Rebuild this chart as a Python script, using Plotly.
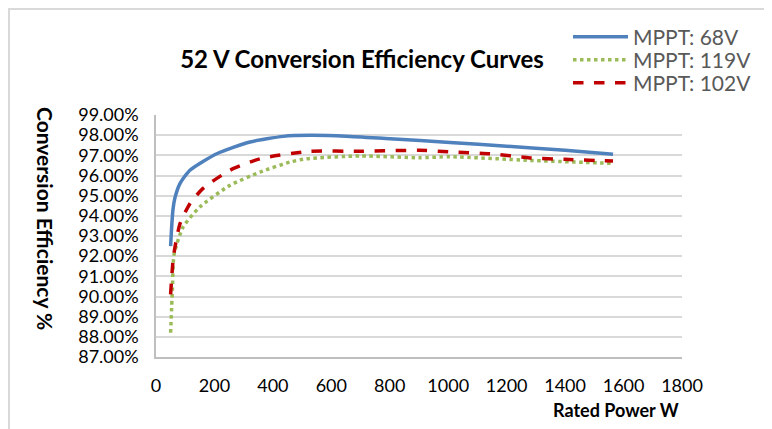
import plotly.graph_objects as go

# Data
x_68v = [50, 53, 58, 65, 82, 116, 208, 322, 436, 527, 650, 800, 1006, 1200, 1400, 1564]
y_68v = [92.5, 93.3, 94.3, 94.9, 95.6, 96.26, 97.08, 97.66, 97.94, 97.99, 97.95, 97.82, 97.64, 97.45, 97.25, 97.05]

x_119v = [50, 56, 62, 93, 150, 253, 356, 459, 515, 700, 900, 1006, 1280, 1564]
y_119v = [88.2, 90.3, 92.1, 93.45, 94.44, 95.51, 96.17, 96.67, 96.83, 96.97, 96.88, 96.93, 96.75, 96.6]

x_102v = [50, 60, 82, 116, 161, 253, 356, 527, 700, 900, 1006, 1143, 1280, 1400, 1564]
y_102v = [90.1, 92.0, 93.6, 94.6, 95.36, 96.26, 96.83, 97.2, 97.2, 97.25, 97.17, 97.08, 96.87, 96.8, 96.72]

y_ticks = [87, 88, 89, 90, 91, 92, 93, 94, 95, 96, 97, 98, 99]
y_tick_labels = [f"{v:.2f}%" for v in y_ticks]
x_ticks = [0, 200, 400, 600, 800, 1000, 1200, 1400, 1600, 1800]

FONT = "Lato"
OFF = 8  # page body margin
W, H = 772 - OFF, 429 - OFF
L, T = 156 - OFF, 115 - OFF
R, B = W - (682 - OFF), H - (357 - OFF)
PW, PH = W - L - R, H - T - B


def px_x(p):
    return (p - OFF - L) / PW


def px_y(p):
    return (H - B - (p - OFF)) / PH


fig = go.Figure()
fig.add_trace(go.Scatter(x=x_68v, y=y_68v, mode="lines", name="MPPT: 68V", legend="legend",
                         line=dict(color="#4f81bd", width=3.5, shape="spline", smoothing=0.6)))
fig.add_trace(go.Scatter(x=x_119v, y=y_119v, mode="lines", name="MPPT: 119V", legend="legend2",
                         line=dict(color="#9bbb59", width=3.5, dash="dot", shape="spline", smoothing=0.6)))
fig.add_trace(go.Scatter(x=x_102v, y=y_102v, mode="lines", name="MPPT: 102V", legend="legend3",
                         line=dict(color="#c00000", width=3.5, dash="dash", shape="spline", smoothing=0.6)))

leg_common = dict(x=px_x(568), xanchor="left", yanchor="middle",
                  font=dict(size=21, family=FONT, color="#595959"),
                  itemwidth=55, bgcolor="rgba(0,0,0,0)")

fig.update_layout(
    width=W, height=H,
    margin=dict(l=L, r=R, t=T, b=B, autoexpand=False),
    paper_bgcolor="white", plot_bgcolor="white",
    font=dict(family=FONT, color="#000000"),
    title=dict(text="<b>52 V Conversion Efficiency Curves</b>", x=(362 - OFF) / W, xanchor="center",
               y=1 - (60 - OFF) / H, yanchor="middle", font=dict(size=24, family=FONT, color="#000000")),
    showlegend=True,
    legend=dict(y=px_y(37), **leg_common),
    legend2=dict(y=px_y(60), **leg_common),
    legend3=dict(y=px_y(83), **leg_common),
    xaxis=dict(range=[0, 1800], tickvals=x_ticks, ticktext=[str(v) for v in x_ticks],
               showgrid=False, zeroline=False, showline=True, linecolor="#bfbfbf", linewidth=1.5,
               ticks="", ticklabelstandoff=12, tickfont=dict(size=18, family=FONT, color="#000000")),
    yaxis=dict(range=[87, 99], tickvals=y_ticks, ticktext=y_tick_labels,
               showgrid=True, gridcolor="#d9d9d9", gridwidth=1.5, zeroline=False,
               showline=True, linecolor="#bfbfbf", linewidth=1.5,
               ticks="", ticklabelstandoff=12, tickfont=dict(size=18, family=FONT, color="#000000")),
)

# Axis titles positioned as in the reference
fig.add_annotation(text="<b>Rated Power W</b>", xref="paper", yref="paper",
                   x=px_x(681), xanchor="right", y=px_y(410), yanchor="middle",
                   showarrow=False, font=dict(size=18, family=FONT, color="#000000"))
fig.add_annotation(text="<b>Conversion Efficiency %</b>", xref="paper", yref="paper",
                   x=px_x(46), xanchor="center", y=px_y(218), yanchor="middle", textangle=90,
                   showarrow=False, font=dict(size=21, family=FONT, color="#000000"))

# Chart area border (top and left visible)
fig.add_shape(type="line", xref="paper", yref="paper",
              x0=px_x(7), x1=px_x(772), y0=px_y(9), y1=px_y(9),
              line=dict(color="#d9d9d9", width=2))
fig.add_shape(type="line", xref="paper", yref="paper",
              x0=px_x(9), x1=px_x(9), y0=px_y(9), y1=px_y(429),
              line=dict(color="#d9d9d9", width=2))

fig.write_html("out.html")
